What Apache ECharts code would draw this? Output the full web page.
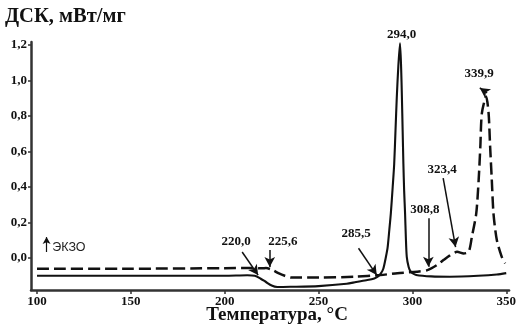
<!DOCTYPE html>
<html>
<head>
<meta charset="utf-8">
<script src="https://cdn.jsdelivr.net/npm/echarts@6/dist/echarts.min.js"></script>
<style>html,body{margin:0;padding:0;background:#fff}#c{width:519px;height:328px}</style>
</head>
<body>
<div id="c"></div>
<script>
// ---- data ----
const xTicks = [100, 150, 200, 250, 300, 350];
const yTicks = [0, 0.2, 0.4, 0.6, 0.8, 1.0, 1.2];

const tempSolid = [100,150,200,212,216,219,222,225,228,235,250,265,270,276,279.7,281.5,283.2,284.5,285.9,286.8,287.7,288.5,289.5,290.3,291,291.7,292.5,293.4,294.0,294.4,294.8,295.2,295.6,296.1,296.5,297,298,299,300,302,310,320,335,345,350];
const dscSolid  = [-0.10,-0.10,-0.10,-0.097,-0.10,-0.115,-0.135,-0.155,-0.163,-0.162,-0.158,-0.145,-0.135,-0.124,-0.115,-0.105,-0.086,-0.06,0.007,0.06,0.158,0.25,0.40,0.53,0.72,0.91,1.08,1.21,1.07,0.91,0.72,0.53,0.38,0.25,0.12,0.007,-0.05,-0.075,-0.085,-0.095,-0.103,-0.105,-0.10,-0.093,-0.085];

const tempDashed = [100,150,200,215,220,222,225,228.6,232,235.5,250,269,283,292,302.6,308,313,316.7,320,323.8,327.3,330,331.7,334,335.3,336.2,337,339.3,340.6,341.4,342.3,343.2,345,347.6,349.4];
const dscDashed  = [-0.06,-0.06,-0.057,-0.056,-0.058,-0.056,-0.065,-0.085,-0.10,-0.11,-0.11,-0.105,-0.096,-0.085,-0.077,-0.068,-0.04,-0.01,0.015,0.035,0.026,0.035,0.12,0.25,0.44,0.63,0.815,0.91,0.815,0.63,0.44,0.25,0.10,0.007,-0.03];

const annText  = ['220,0','225,6','285,5','308,8','323,4','339,9','294,0'];
const annTextT = [206.1, 231, 270, 306.7, 315.8, 335.6, 294.2];
const annTextV = [0.09, 0.09, 0.135, 0.27, 0.496, 1.04, 1.256];
const arrowFromT = [209.3, 224, 271.3, 308.5, 316.4, 339.8];
const arrowFromV = [0.034, 0.045, 0.055, 0.224, 0.45, 0.93];
const arrowToT   = [217.8, 224, 281, 308.5, 323, 335.9];
const arrowToV   = [-0.096, -0.05, -0.096, -0.049, 0.062, 0.958];

const exoText = 'ЭКЗО';
const exoT = 117, exoV = 0.059;
const exoArrowT = 105.1, exoArrowFromV = 0.034, exoArrowToV = 0.118;

// ---- chart ----
const chart = echarts.init(document.getElementById('c'), null, {renderer: 'canvas'});
const fmt = v => Number(v).toFixed(1).replace('.', ',');
const serif = '"Liberation Serif", "Times New Roman", serif';
const yMin = -0.18, yMax = 1.217;

const arrows = arrowFromT.map((t, i) => [
  {coord: [t, arrowFromV[i]]},
  {coord: [arrowToT[i], arrowToV[i]]}
]);
arrows.push([
  {coord: [exoArrowT, exoArrowFromV], lineStyle: {width: 1.2}},
  {coord: [exoArrowT, exoArrowToV], symbolSize: [6, 7]}
]);

const labels = [];
annText.forEach((s, i) => {
  if (annTextV[i] <= yMax) labels.push({coord: [annTextT[i], annTextV[i]], label: {formatter: s}});
});
labels.push({
  coord: [exoT, exoV],
  label: {formatter: exoText, fontFamily: '"Liberation Sans", Arial, sans-serif', fontWeight: 'normal', fontSize: 12.5, color: '#222'}
});

const option = {
  animation: false,
  backgroundColor: '#ffffff',
  grid: {left: 31, right: 8, top: 42, bottom: 38, containLabel: false},
  xAxis: {
    type: 'value', min: 96.8, max: 351.5,
    axisLine: {onZero: false, lineStyle: {color: '#333', width: 2.5}},
    axisTick: {show: true, length: 4, lineStyle: {color: '#333', width: 1.5}, customValues: xTicks},
    axisLabel: {customValues: xTicks, fontFamily: serif, fontWeight: 'bold', fontSize: 13, color: '#111', margin: 5},
    splitLine: {show: false}
  },
  yAxis: {
    type: 'value', min: yMin, max: yMax,
    axisLine: {show: true, onZero: false, lineStyle: {color: '#333', width: 2.5}},
    axisTick: {show: true, length: 3, lineStyle: {color: '#333', width: 1.5}, customValues: yTicks},
    axisLabel: {customValues: yTicks, formatter: fmt, fontFamily: serif, fontWeight: 'bold', fontSize: 13, color: '#111', margin: 4},
    splitLine: {show: false}
  },
  graphic: [
    {type: 'text', left: 5, top: 6, style: {text: 'ДСК, мВт/мг', font: 'bold 20.5px ' + serif, fill: '#111'}},
    {type: 'text', x: 277, y: 315, style: {text: 'Температура, °C', font: 'bold 19px ' + serif, fill: '#111', textAlign: 'center', textVerticalAlign: 'middle'}}
  ],
  series: [
    {
      type: 'line', name: 'dashed', showSymbol: false, smooth: 0.25,
      data: tempDashed.map((t, i) => [t, dscDashed[i]]),
      lineStyle: {color: '#111', width: 2.5, type: [12, 5]},
      silent: true
    },
    {
      type: 'line', name: 'solid', showSymbol: false, smooth: 0.25,
      data: tempSolid.map((t, i) => [t, dscSolid[i]]),
      lineStyle: {color: '#111', width: 2.1},
      silent: true,
      markLine: {
        silent: true, animation: false,
        symbol: ['none', 'arrow'], symbolSize: [8, 10],
        label: {show: false},
        lineStyle: {color: '#111', width: 1.5, type: 'solid'},
        emphasis: {disabled: true},
        data: arrows
      },
      markPoint: {
        silent: true, animation: false,
        symbol: 'circle', symbolSize: 0,
        label: {show: true, position: 'inside', fontFamily: serif, fontWeight: 'bold', fontSize: 13, color: '#111'},
        data: labels
      }
    }
  ]
};
chart.setOption(option);

// labels above the plotting range: place through the chart's own scales
const extra = [];
annText.forEach((s, i) => {
  if (annTextV[i] > yMax) {
    const p = chart.convertToPixel({gridIndex: 0}, [annTextT[i], annTextV[i]]);
    extra.push({type: 'text', x: p[0], y: p[1], style: {text: s, font: 'bold 13px ' + serif, fill: '#111', textAlign: 'center', textVerticalAlign: 'middle'}});
  }
});
chart.setOption({graphic: option.graphic.concat(extra)});
</script>
</body>
</html>
